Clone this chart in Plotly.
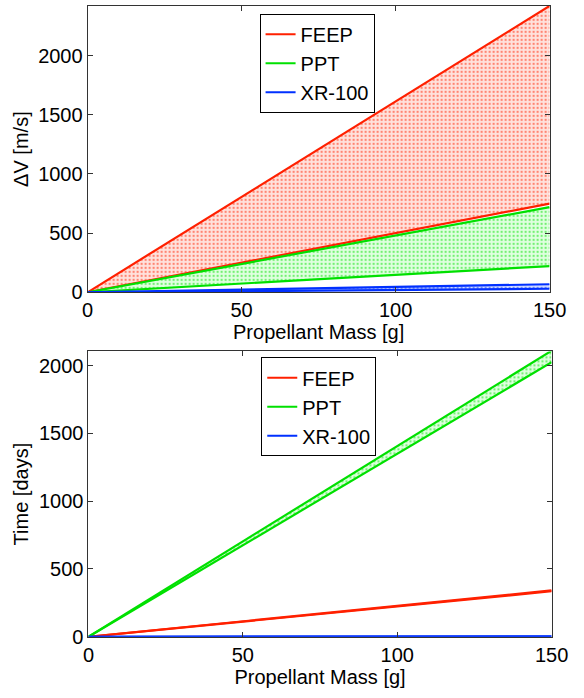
import plotly.graph_objects as go

mass = [0, 150]
# Delta-V [m/s] (upper/lower bounds)
dv_feep_hi = [0, 2420]
dv_feep_lo = [0, 750]
dv_ppt_hi = [0, 720]
dv_ppt_lo = [0, 222]
dv_xr_hi = [0, 68]
dv_xr_lo = [0, 30]
# Time [days]
t_ppt_hi = [0, 2110]
t_ppt_lo = [0, 2025]
t_feep_hi = [0, 342]
t_feep_lo = [0, 336]
t_xr_hi = [0, 4]
t_xr_lo = [0, 2]

names = ["FEEP", "PPT", "XR-100"]
colors = ["#ff2000", "#00e000", "#0030ff"]
tints = ["#ffe2dd", "#e0ffe0", "#d4ddff"]

FONT = "Liberation Sans, Arial, sans-serif"
fig = go.Figure()

def band(lo, hi, name, color, tint, xa, ya):
    fig.add_trace(go.Scatter(x=mass, y=lo, mode="lines", line=dict(color=color, width=2.2),
                             xaxis=xa, yaxis=ya, showlegend=False, hoverinfo="skip"))
    fig.add_trace(go.Scatter(x=mass, y=hi, mode="lines", line=dict(color=color, width=2.2),
                             fill="tonexty",
                             fillpattern=dict(shape=".", fgcolor=color, bgcolor=tint,
                                              size=4, solidity=0.25),
                             xaxis=xa, yaxis=ya, showlegend=False))

def legend_entry(name, color, xa, ya, leg):
    fig.add_trace(go.Scatter(x=[None], y=[None], mode="lines", line=dict(color=color, width=2),
                             xaxis=xa, yaxis=ya, name=name, legend=leg))

band(dv_feep_lo, dv_feep_hi, names[0], colors[0], tints[0], "x", "y")
band(dv_ppt_lo, dv_ppt_hi, names[1], colors[1], tints[1], "x", "y")
band(dv_xr_lo, dv_xr_hi, names[2], colors[2], tints[2], "x", "y")

band(t_feep_lo, t_feep_hi, names[0], colors[0], tints[0], "x2", "y2")
band(t_ppt_lo, t_ppt_hi, names[1], colors[1], tints[1], "x2", "y2")
band(t_xr_lo, t_xr_hi, names[2], colors[2], tints[2], "x2", "y2")

for n, c in zip(names, colors):
    legend_entry(n, c, "x", "y", "legend")
for n, c in zip(names, colors):
    legend_entry(n, c, "x2", "y2", "legend2")

axis_common = dict(showline=True, linecolor="#333", linewidth=1, mirror="ticks", ticks="inside",
                   ticklen=5, tickcolor="#333", showgrid=False, zeroline=False,
                   tickfont=dict(family=FONT, size=20, color="black"))

legend_common = dict(bgcolor="white", bordercolor="black", borderwidth=1,
                     font=dict(family=FONT, size=20, color="black"), traceorder="normal",
                     xanchor="left", yanchor="top", tracegroupgap=0, itemwidth=30)

title_font = dict(family=FONT, size=20, color="black")

fig.update_layout(
    width=584, height=698, margin=dict(l=0, r=0, t=0, b=0),
    plot_bgcolor="white", paper_bgcolor="white",
    xaxis=dict(domain=[0.1455, 0.969], range=[0, 150], anchor="y", tickvals=[0, 50, 100, 150],
               title=dict(text="Propellant Mass [g]", font=title_font, standoff=0),
               **axis_common),
    yaxis=dict(domain=[0.5745, 0.9914], range=[0, 2420], anchor="x", tickvals=[0, 500, 1000, 1500, 2000],
               title=dict(text="ΔV [m/s]", font=title_font, standoff=4),
               **axis_common),
    xaxis2=dict(domain=[0.147, 0.9726], range=[0, 150], anchor="y2", tickvals=[0, 50, 100, 150],
                title=dict(text="Propellant Mass [g]", font=title_font, standoff=0),
                **axis_common),
    yaxis2=dict(domain=[0.0731, 0.4885], range=[0, 2105], anchor="x2", tickvals=[0, 500, 1000, 1500, 2000],
                title=dict(text="Time [days]", font=title_font, standoff=4),
                **axis_common),
    legend=dict(x=0.452, y=0.98, **legend_common),
    legend2=dict(x=0.455, y=0.48, **legend_common),
)

fig.write_html("out.html")
